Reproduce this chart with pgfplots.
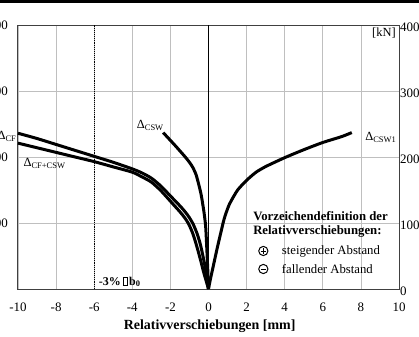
\documentclass[border=0pt]{standalone}
\usepackage{fontspec}
\setmainfont{Liberation Serif}
\usepackage{pgfplots}
\pgfplotsset{compat=1.18}
\newcommand\sub[1]{\raisebox{-0.3ex}{\fontsize{8.5}{9}\selectfont #1}}
\newcommand\missbox{{\setlength\fboxsep{0pt}\setlength\fboxrule{0.4pt}\,\fbox{\vphantom{b}\hspace{3.5pt}}}}
\newsavebox\plusbox
\newsavebox\minusbox
\begin{document}
\sbox\plusbox{\tikz[baseline=-0.5ex]{\draw[line width=1bp] (0,0) circle (4.6bp); \draw[line width=0.9bp] (-2.8bp,0)--(2.8bp,0) (0,-2.8bp)--(0,2.8bp);}}%
\sbox\minusbox{\tikz[baseline=-0.5ex]{\draw[line width=1bp] (0,0) circle (4.6bp); \draw[line width=0.9bp] (-2.2bp,0)--(2.2bp,0);}}%
\begin{tikzpicture}
\pgfplotsset{
  common/.style={
    at={(0,0)}, anchor=south west, scale only axis,
    width=381bp, height=264bp,
    xmin=-10, xmax=10, ymin=0, ymax=400,
    major tick length=0pt,
    tick style={draw=none},
    /pgf/number format/assume math mode=true,
    ticklabel style={font=\fontsize{13}{15}\selectfont, inner sep=0pt},
    axis line style={draw=black!75, line width=1bp},
    clip=false,
  },
  curve/.style={black, line width=3bp, line join=round, smooth, tension=0.4},
}
\begin{axis}[common,
  xtick={-10,-8,...,10},
  xticklabels={\raisebox{-4bp}{-10},-8,-6,-4,-2,0,\raisebox{-5bp}{2},4,6,\raisebox{-1.5bp}{8},\raisebox{-1.5bp}{10}},
  xticklabel style={anchor=north, yshift=-14bp},
  ytick={100,200,300,400},
  yticklabel style={anchor=east, xshift=-10bp},
  grid=major, major grid style={draw=black!25, line width=0.8bp},
  xlabel={\textbf{Relativverschiebungen [mm]}},
  xlabel style={font=\fontsize{14}{16}\selectfont, at={(axis description cs:0.503,0)}, anchor=center, yshift=-37bp},
]
% reference lines
\addplot[black, densely dotted, line width=0.9bp] coordinates {(-6,0) (-6,400)};
\addplot[black, line width=1.3bp] coordinates {(0,0) (0,400)};
% Delta CF
\addplot[curve] coordinates {
(-10,236) (-9,228) (-8,219) (-7,210) (-6,201) (-5,192) (-4,182) (-3.5,176) (-3,168) (-2.5,156) (-2,141) (-1.5,126) (-1.2,116) (-1,108) (-0.8,98) (-0.6,84) (-0.45,70) (-0.35,58) (-0.2,37) (-0.1,20) (0,0)};
% Delta CF+CSW
\addplot[curve] coordinates {
(-10,221) (-9,214) (-8,207) (-7,200) (-6,193) (-5,185) (-4,177) (-3.5,170) (-3,162) (-2.5,149) (-2,133) (-1.5,117) (-1.25,108) (-1.05,99) (-0.85,86) (-0.7,73) (-0.55,58) (-0.4,42) (-0.25,25) (-0.12,12) (0,0)};
% Delta CSW
\addplot[curve] coordinates {
(-2.38,237) (-1.77,218) (-1.25,201) (-1,192) (-0.82,184) (-0.65,173) (-0.5,157) (-0.38,142) (-0.24,117) (-0.15,95) (-0.09,62) (-0.04,30) (0,0)};
% Delta CSW1
\addplot[curve] coordinates {
(0,0) (0.1,15) (0.23,32) (0.45,61) (0.66,87) (0.83,107) (1.09,128) (1.53,150) (2.05,166) (2.5,177) (3,185.5) (4,199) (5,211) (6,222) (7,231) (7.52,237)};
% labels
\node[anchor=center, font=\fontsize{12.5}{14}\selectfont] at (axis cs:9.21,388) {[kN]};
\node[anchor=west, inner sep=0pt, font=\fontsize{12.5}{14}\selectfont] at (axis cs:-3.77,248) {Δ\sub{CSW}};
\node[anchor=east, inner sep=0pt, font=\fontsize{12.5}{14}\selectfont] at (axis cs:-10.1,231) {Δ\sub{CF}};
\node[anchor=west, inner sep=0pt, font=\fontsize{12.5}{14}\selectfont] at (axis cs:-9.72,190) {Δ\sub{CF+CSW}};
\node[anchor=west, inner sep=0pt, font=\fontsize{12.5}{14}\selectfont] at (axis cs:8.22,230) {Δ\sub{CSW1}};
\node[anchor=west, inner sep=0pt, font=\bfseries\fontsize{12}{14}\selectfont] at (axis cs:-5.76,11) {-3\%\missbox\,b\sub{0}};
\node[anchor=west, inner sep=0pt, font=\bfseries\fontsize{12.8}{14}\selectfont] at (axis cs:2.34,110.6) {Vorzeichendefinition der};
\node[anchor=west, inner sep=0pt, font=\bfseries\fontsize{12.8}{14}\selectfont] at (axis cs:2.34,86.8) {Relativverschiebungen:};
\node[anchor=west, inner sep=0pt] at (axis cs:2.6,57.6) {\usebox\plusbox};
\node[anchor=west, inner sep=0pt, font=\fontsize{12.8}{14}\selectfont] at (axis cs:3.84,57.6) {steigender Abstand};
\node[anchor=west, inner sep=0pt] at (axis cs:2.6,30.3) {\usebox\minusbox};
\node[anchor=west, inner sep=0pt, font=\fontsize{12.8}{14}\selectfont] at (axis cs:3.84,30.3) {fallender Abstand};
\end{axis}
\begin{axis}[common,
  axis x line=none, axis y line*=right,
  xtick=\empty,
  ytick={0,100,...,400},
  yticklabel style={anchor=west, xshift=1bp, yshift=-2.5bp},
]
\addplot[draw=none] coordinates {(0,0)};
\end{axis}
\draw[line width=3bp] (-18bp,287.5bp) -- (401bp,287.5bp);
\pgfresetboundingbox
\useasboundingbox (-18bp,-48bp) rectangle (401bp,289bp);
\end{tikzpicture}
\end{document}
